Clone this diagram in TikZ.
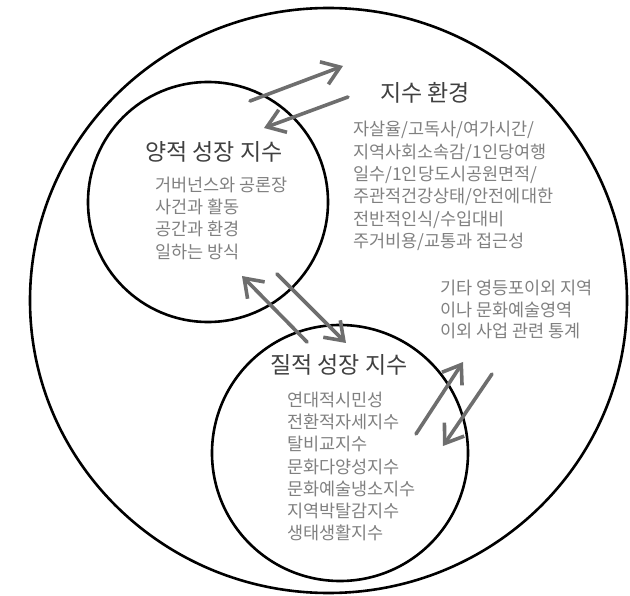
\documentclass[tikz,border=0pt]{standalone}
\usepackage{fontspec}
\setmainfont{Noto Sans CJK KR}
\usepackage{xcolor}
\usepackage{tikz}
\usetikzlibrary{arrows.meta,shapes.geometric}

\definecolor{ink}{HTML}{404040}
\definecolor{soft}{HTML}{808080}
\definecolor{pencil}{HTML}{6E6E6E}

\begin{document}
\begin{tikzpicture}[
  x=1pt, y=-1pt,
  ring/.style={draw, line width=2.6pt, inner sep=0pt},
  title/.style={anchor=west, inner sep=0pt, text=ink, font=\fontsize{23}{26}\selectfont},
  items/.style={anchor=west, inner sep=0pt, align=left, text=soft, font=\fontsize{17.5}{22.3}\selectfont},
  link/.style={-{Straight Barb[length=17pt, width=24pt]}, line width=3.6pt, draw=pencil, line cap=round, line join=round}
]
\useasboundingbox (0,0) rectangle (630,596);

% circles
\node[ring, ellipse, minimum width=597pt, minimum height=585pt] at (328.5,300.5) (outer) {};
\node[ring, circle, minimum size=240pt] at (208,202) (quant) {};
\node[ring, circle, minimum size=256pt] at (340,453) (qual) {};

% texts
\node[title] at (380,93) (envtitle) {지수 환경};
\node[items] at (353,186) (envlist) {자살율/고독사/여가시간/\\지역사회소속감/1인당여행\\일수/1인당도시공원면적/\\주관적건강상태/안전에대한\\전반적인식/수입대비\\주거비용/교통과 접근성};
\node[title] at (145,152) (quanttitle) {양적 성장 지수};
\node[items] at (155,218) (quantlist) {거버넌스와 공론장\\사건과 활동\\공간과 환경\\일하는 방식};
\node[title] at (270,365) (qualtitle) {질적 성장 지수};
\node[items] at (287,466.5) (quallist) {연대적시민성\\전환적자세지수\\탈비교지수\\문화다양성지수\\문화예술냉소지수\\지역박탈감지수\\생태생활지수};
\node[items, font=\fontsize{17.5}{21.5}\selectfont] at (440,309.5) (etc) {기타 영등포이외 지역\\이나 문화예술영역\\이외 사업 관련 통계};

% arrow ends
\coordinate (a1) at (250,101);
\coordinate (a2) at (343,66);
\coordinate (b1) at (348,97);
\coordinate (b2) at (264,128);
\coordinate (c1) at (307,342);
\coordinate (c2) at (242,276);
\coordinate (d1) at (277,274);
\coordinate (d2) at (346,343);
\coordinate (e1) at (416,434);
\coordinate (e2) at (463,362);
\coordinate (f1) at (492,374);
\coordinate (f2) at (443,446);

\draw[link] (a1) -- (a2);
\draw[link] (b1) -- (b2);
\draw[link] (c1) -- (c2);
\draw[link] (d1) -- (d2);
\draw[link] (e1) -- (e2);
\draw[link] (f1) -- (f2);
\end{tikzpicture}
\end{document}
